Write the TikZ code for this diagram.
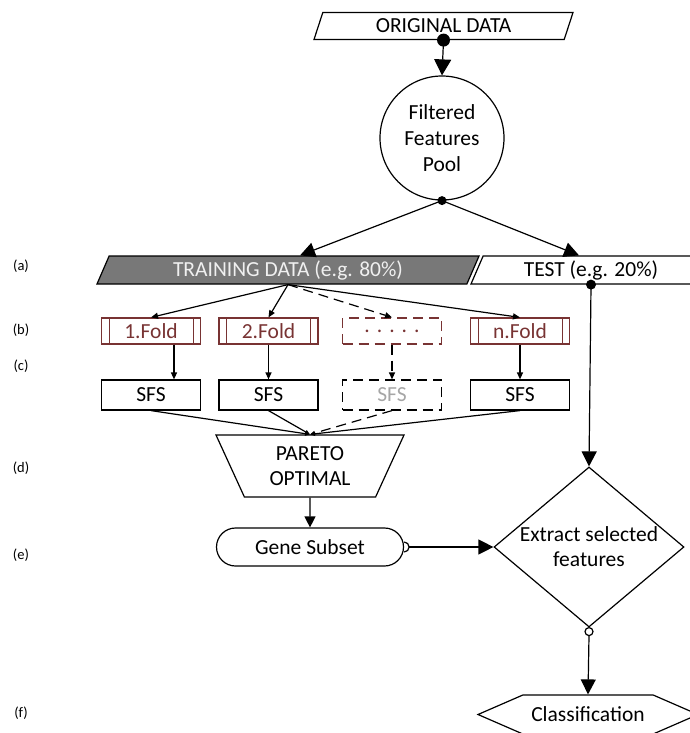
\documentclass[tikz,border=0pt]{standalone}
\usepackage{fontspec}
\setmainfont{Carlito}
\usetikzlibrary{arrows.meta,calc,shapes.geometric,shapes.misc,shapes.symbols}
\definecolor{FoldClr}{rgb}{0.47,0.2,0.2}
\definecolor{TrainClr}{rgb}{0.47,0.47,0.47}
\definecolor{GhostClr}{rgb}{0.65,0.65,0.65}

\tikzset{
  line/.style={line width=1.2pt},
  dashline/.style={line width=1.2pt,dash pattern=on 10pt off 6pt},
  bigtip/.style={-{Triangle[length=15pt,width=15pt]}},
  midtip/.style={-{Triangle[length=11pt,width=11pt]}},
  smalltip/.style={-{Triangle[length=7pt,width=6pt]}},
  databox/.style={draw,line,trapezium,trapezium left angle=58,trapezium right angle=122,
    trapezium stretches body,minimum height=28pt},
  foldbox/.style={draw=FoldClr,line,text=FoldClr,minimum width=99pt,minimum height=26pt,
    path picture={
      \draw[FoldClr,line width=1pt] ([xshift=7.5pt]path picture bounding box.north west)
        -- ([xshift=7.5pt]path picture bounding box.south west);
      \draw[FoldClr,line width=1pt] ([xshift=-7.5pt]path picture bounding box.north east)
        -- ([xshift=-7.5pt]path picture bounding box.south east);}},
  sfsbox/.style={draw,line,minimum width=99pt,minimum height=30pt},
  lbl/.style={font=\fontsize{14.5}{16}\selectfont}
}

\begin{document}
\begin{tikzpicture}[x=1pt,y=-1pt,
  every node/.style={font=\fontsize{21.5}{25}\selectfont,inner sep=0pt}]
\useasboundingbox (0,0) rectangle (689,733);

% Data sources.
\node[databox,minimum width=259pt,minimum height=27pt] (orig) at (443.5,26) {ORIGINAL DATA};
\node[circle,draw,line,minimum size=124pt,align=center,
  font=\fontsize{21.5}{26}\selectfont] (pool) at (442,138) {Filtered\\Features\\Pool};
\node[databox,fill=TrainClr,text=white!94!black,minimum width=382pt] (train) at (288,270)
  {TRAINING DATA (e.g. 80\%)};
\node[databox,fill=white,minimum width=240pt] (test) at (591,270) {TEST (e.g. 20\%)};

% Folds and their searches.
\node[foldbox] (fold1) at (151,331) {1.Fold};
\node[foldbox] (fold2) at (268.5,331) {2.Fold};
\node[foldbox,dash pattern=on 10pt off 6pt,
  path picture={}] (folddots) at (392,331) {.\hspace{7pt}.\hspace{7pt}.\hspace{7pt}.\hspace{7pt}.};
\node[foldbox] (foldn) at (520,331) {n.Fold};

\node[sfsbox] (sfs1) at (151,395) {SFS};
\node[sfsbox] (sfs2) at (268.5,395) {SFS};
\node[sfsbox,dash pattern=on 10pt off 6pt,text=GhostClr] (sfsdots) at (392,395) {SFS};
\node[sfsbox] (sfsn) at (520,395) {SFS};

\node[trapezium,draw,line,shape border rotate=180,trapezium left angle=54,
  trapezium right angle=54,trapezium stretches body,minimum width=188pt,
  minimum height=62pt,align=center] (pareto) at (310,466) {PARETO\\OPTIMAL};
\node[rounded rectangle,draw,line,minimum width=187pt,minimum height=38pt] (gene)
  at (310,547) {Gene Subset};
\node[diamond,draw,line,aspect=1.19,minimum width=190pt,minimum height=160pt,
  align=center] (extract) at (589,547) {Extract selected\\features};
\node[signal,signal to=west and east,signal pointer angle=47,draw,line,
  minimum width=220pt,minimum height=39pt] (classif) at (588,714.5) {Classification};

% Row labels.
\node[lbl] (la) at (21,266) {(a)};
\node[lbl] (lb) at (21,330) {(b)};
\node[lbl] (lc) at (21,366) {(c)};
\node[lbl] (ld) at (21,468) {(d)};
\node[lbl] (le) at (21,555) {(e)};
\node[lbl] (lf) at (21,713) {(f)};

% Connectors.
\draw[line,-{Triangle[length=16pt,width=17pt]}] (orig.south) -- (pool.north);
\fill (orig.south) circle (6.5);
\draw[line,bigtip] (pool.south) -- ([xshift=12pt]train.north);
\draw[line,bigtip] (pool.south) -- ([xshift=-12pt]test.north);
\fill (pool.south) circle (4.5);

\draw[line,smalltip] (train.south) -- (fold1.north);
\draw[line,smalltip] (train.south) -- (fold2.north);
\draw[dashline,smalltip] (train.south) -- (folddots.north);
\draw[line,smalltip] (train.south) -- (foldn.north);

\draw[line,smalltip] ([xshift=23pt]fold1.south) -- ([xshift=23pt]sfs1.north);
\draw[line,smalltip] (fold2.south) -- (sfs2.north);
\draw[dashline,smalltip] (folddots.south) -- (sfsdots.north);
\draw[line,smalltip] (foldn.south) -- (sfsn.north);

\draw[line,-{Triangle[length=5pt,width=4pt]}] (sfs1.south) -- (pareto.north);
\draw[line,-{Triangle[length=5pt,width=4pt]}] (sfs2.south) -- (pareto.north);
\draw[dashline,-{Triangle[length=5pt,width=4pt]}] (sfsdots.south) -- (pareto.north);
\draw[line,-{Triangle[length=5pt,width=4pt]}] (sfsn.south) -- (pareto.north);

\draw[line,midtip] (pareto.south) -- (gene.north);
\draw[line] (gene.east) ++(0,-5) arc[start angle=-90,end angle=90,radius=5];
\draw[line,bigtip] ([xshift=5pt]gene.east) -- (extract.west);

\draw[line,bigtip] (test.south) -- (extract.north);
\fill (test.south) circle (5);

\draw[line] (extract.south) ++(0,4) circle (4);
\draw[line,bigtip] ([yshift=-8pt]extract.south) -- (classif.north);

\end{tikzpicture}
\end{document}
